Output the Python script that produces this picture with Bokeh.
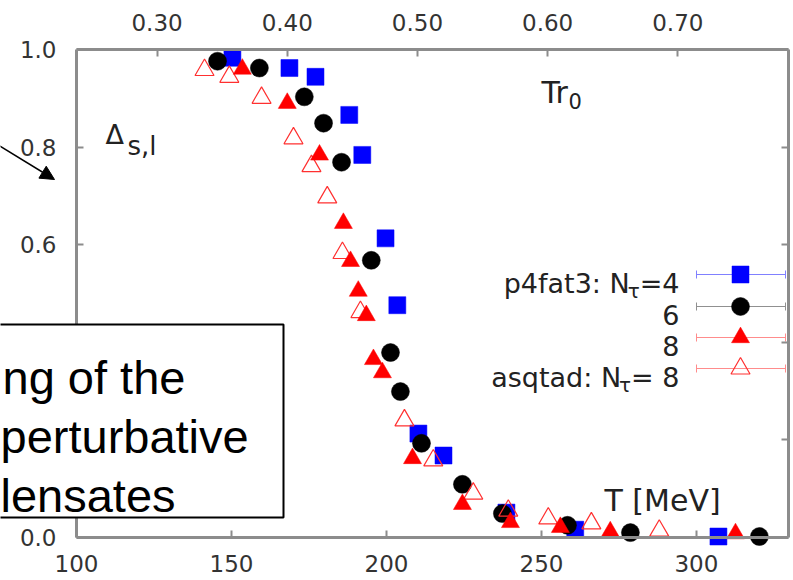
from bokeh.plotting import figure
from bokeh.models import Range1d, LinearAxis, FixedTicker, Label, BoxAnnotation, Arrow, NormalHead
from bokeh.embed import file_html
from bokeh.resources import INLINE

# ---------------- data ----------------
T_p4_nt4 = [150.3, 168.7, 177.1, 188.0, 192.2, 199.7, 203.5, 210.3, 218.4, 238.7, 260.9, 307.1]
D_p4_nt4 = [0.983, 0.962, 0.944, 0.866, 0.784, 0.613, 0.476, 0.213, 0.168, 0.051, 0.016, 0.002]

T_p4_nt6 = [145.5, 159.0, 173.5, 179.7, 185.5, 195.1, 201.3, 204.5, 211.3, 224.5, 237.4, 258.4, 278.7, 320.3]
D_p4_nt6 = [0.976, 0.962, 0.903, 0.849, 0.769, 0.568, 0.379, 0.299, 0.193, 0.109, 0.049, 0.025, 0.010, 0.002]

T_p4_nt8 = [153.5, 168.0, 178.4, 186.1, 188.4, 190.9, 193.5, 195.8, 198.7, 208.4, 224.5, 240.0, 256.1, 272.2, 312.6]
D_p4_nt8 = [0.960, 0.890, 0.784, 0.644, 0.566, 0.505, 0.455, 0.365, 0.338, 0.162, 0.068, 0.031, 0.021, 0.012, 0.008]

T_asq_nt8 = [141.3, 149.3, 159.7, 170.0, 175.8, 180.9, 185.8, 191.6, 205.8, 215.1, 228.0, 239.3, 252.2, 266.1, 288.0]
D_asq_nt8 = [0.958, 0.944, 0.901, 0.818, 0.761, 0.697, 0.583, 0.462, 0.240, 0.158, 0.090, 0.055, 0.039, 0.029, 0.014]

T_ticks = [100, 150, 200, 250, 300]
T_labels = ["100", "150", "200", "250", "300"]
D_ticks = [0.0, 0.2, 0.4, 0.6, 0.8, 1.0]
D_labels = ["0.0", "0.2", "0.4", "0.6", "0.8", "1.0"]
Tr0_ticks = [0.3, 0.4, 0.5, 0.6, 0.7]
Tr0_labels = ["0.30", "0.40", "0.50", "0.60", "0.70"]
T_PER_TR0 = 420.0  # T [MeV] = 420 * T r0

legend_prefix = ["p4fat3: N", "", "", "asqtad: N"]
legend_sub = ["\u03c4", "", "", "\u03c4"]
legend_suffix = ["=4", "6", "8", "= 8"]

box_lines = ["ng of the", "perturbative", "lensates"]

# ---------------- layout ----------------
W, H = 793, 580
FL, FR, FT, FB = 76, 788, 49, 537      # pixel box of the chart frame
X0, X1 = 100.0, 329.7                   # T range of the frame
Y0, Y1 = 0.0, 1.0


def xd(px):
    return X0 + (px - FL) * (X1 - X0) / (FR - FL)


def yd(py):
    return Y0 + (FB - py) * (Y1 - Y0) / (FB - FT)


# the plotting area covers the whole canvas so that the slide overlay is not clipped
p = figure(width=W, height=H, x_range=Range1d(xd(0), xd(W)), y_range=Range1d(yd(H), yd(0)),
           output_backend="svg", toolbar_location=None,
           x_axis_location=None, y_axis_location=None,
           min_border_left=0, min_border_right=0, min_border_top=0, min_border_bottom=0)
p.grid.visible = False
p.outline_line_color = None
p.background_fill_color = "white"
p.border_fill_color = "white"

AX = "#8c8c8c"
FONT = "DejaVu Sans"


def style(ax):
    ax.axis_line_color = AX
    ax.axis_line_width = 3
    ax.major_tick_line_color = AX
    ax.major_tick_line_width = 2
    ax.major_tick_in = 7
    ax.major_tick_out = 0
    ax.minor_tick_line_color = None
    ax.major_label_text_font = FONT
    ax.major_label_text_font_size = "23px"
    ax.major_label_text_color = "#333333"


xb = LinearAxis(fixed_location=Y0, bounds=(X0, X1), ticker=FixedTicker(ticks=T_ticks),
                major_label_overrides=dict(zip(T_ticks, T_labels)))
style(xb)
xb.major_label_standoff = 17
p.add_layout(xb, "below")

yl = LinearAxis(fixed_location=X0, bounds=(Y0, Y1), ticker=FixedTicker(ticks=D_ticks),
                major_label_overrides=dict(zip(D_ticks, D_labels)))
style(yl)
yl.major_label_standoff = 20
p.add_layout(yl, "left")

p.extra_x_ranges = {"tr0": Range1d(xd(0) / T_PER_TR0, xd(W) / T_PER_TR0)}
xt = LinearAxis(x_range_name="tr0", fixed_location=Y1, bounds=(X0 / T_PER_TR0, X1 / T_PER_TR0),
                ticker=FixedTicker(ticks=Tr0_ticks),
                major_label_overrides=dict(zip(Tr0_ticks, Tr0_labels)))
style(xt)
xt.major_label_standoff = 19
p.add_layout(xt, "above")

yr = LinearAxis(fixed_location=X1, bounds=(Y0, Y1), ticker=FixedTicker(ticks=D_ticks))
style(yr)
yr.major_label_text_color = None
yr.major_label_standoff = 0
p.add_layout(yr, "right")

# ---------------- data marks ----------------
p.scatter(T_p4_nt4, D_p4_nt4, marker="square", size=17,
          fill_color="#0000ff", line_color="#0000ff", line_width=0.5)
p.scatter(T_p4_nt6, D_p4_nt6, marker="circle", size=18,
          fill_color="#000000", line_color="#000000", line_width=0.5)
p.scatter(T_asq_nt8, D_asq_nt8, marker="triangle", size=19,
          fill_color=None, line_color="#ff3030", line_width=1.2)
p.scatter(T_p4_nt8, D_p4_nt8, marker="triangle", size=18,
          fill_color="#ff0000", line_color="#ff0000", line_width=0.5)

# ---------------- legend (drawn by hand, with subscripts) ----------------
rows_py = [274, 306, 337, 368]
key_x0, key_x1, key_xm = 696, 785, 740
key_line = ["#8080ff", "#909090", "#ff8c8c", "#ff8c8c"]
key_marker = [("square", 17, "#0000ff", "#0000ff"), ("circle", 18, "#000000", "#000000"),
              ("triangle", 18, "#ff0000", "#ff0000"), ("triangle", 19, None, "#ff3030")]
for i, py in enumerate(rows_py):
    p.segment(x0=[xd(key_x0)], y0=[yd(py)], x1=[xd(key_x1)], y1=[yd(py)],
              line_color=key_line[i], line_width=1)
    p.segment(x0=[xd(key_x0), xd(key_x1)], y0=[yd(py - 4), yd(py - 4)],
              x1=[xd(key_x0), xd(key_x1)], y1=[yd(py + 4), yd(py + 4)],
              line_color=key_line[i], line_width=1)
    m, s, fc, lc = key_marker[i]
    p.scatter([xd(key_xm)], [yd(py)], marker=m, size=s, fill_color=fc, line_color=lc,
              line_width=1.2 if fc is None else 0.5)

LEG_FS = 27
SUB_FS = 20
ADV = {"=": 0.838, "4": 0.636, "8": 0.636, "6": 0.636, " ": 0.318, "\u03c4": 0.55}


def width(s, fs):
    return sum(ADV.get(c, 0.6) for c in s) * fs


def lab(px, py, text, fs, font=FONT, align="left", color="#222222", baseline="alphabetic"):
    p.add_layout(Label(x=xd(px), y=yd(py), text=text, text_font=font,
                       text_font_size=f"{fs}px", text_align=align,
                       text_baseline=baseline, text_color=color, level="overlay"))


right_edge = 679
for i, py in enumerate(rows_py):
    base = py + 8.5
    lab(right_edge, base, legend_suffix[i], LEG_FS, align="right")
    if legend_sub[i]:
        xr = right_edge - width(legend_suffix[i], LEG_FS)
        lab(xr, base + 8, legend_sub[i], SUB_FS, align="right")
        xr2 = xr - width(legend_sub[i], SUB_FS)
        lab(xr2 + 1, base, legend_prefix[i], LEG_FS, align="right")

# ---------------- in-plot labels ----------------
lab(541, 92, "Tr", 30)
lab(568, 100, "0", 21)
lab(604, 500, "T [MeV]", 30)
lab(105, 134, "\u0394", 27)
lab(127, 145, "s,l", 26)

# ---------------- slide overlay: text box and arrow ----------------
p.add_layout(BoxAnnotation(left=xd(-10), right=xd(283), top=yd(324), bottom=yd(517),
                           fill_color="white", fill_alpha=1.0, line_color="black",
                           line_alpha=1.0, line_width=2, level="overlay"))
box_px = [2, 0, 0]
box_py = [377, 436, 495]
for t, bx, by in zip(box_lines, box_px, box_py):
    lab(bx, by, t, 47, font="Liberation Sans", color="#000000")

p.add_layout(Arrow(end=NormalHead(size=14, fill_color="black", line_color="black"),
                   x_start=xd(-3), y_start=yd(144), x_end=xd(54), y_end=yd(179),
                   line_color="black", line_width=1.5, level="overlay"))

open("out.html", "w").write(file_html(p, INLINE))
